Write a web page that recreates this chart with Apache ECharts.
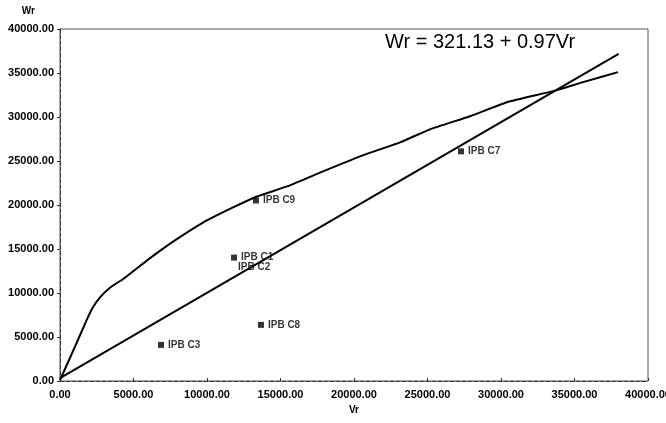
<!DOCTYPE html>
<html><head><meta charset="utf-8">
<script src="https://cdn.jsdelivr.net/npm/echarts@6/dist/echarts.min.js"></script>
<style>html,body{margin:0;padding:0;background:#fff}#c{width:666px;height:423px}</style>
</head><body><div id="c"></div>
<script>
// Sample points (Vr, Wr) and labels
const pointNames = ['IPB C3', 'IPB C8', 'IPB C1', 'IPB C2', 'IPB C9', 'IPB C7'];
const pointVr = [6870, 13670, 11840, 11840, 13330, 27280];
const pointWr = [4100, 6380, 14020, 14020, 20510, 26100];
// Regression line end points: Wr = 321.13 + 0.97Vr
const lineVr = [0, 38000];
const lineWr = [320, 37180];
// Curve
const curveVr = [0, 1020, 1700, 2180, 2720, 3400, 4420, 5990, 7690, 9730, 11770, 13400, 15440, 17890, 20410, 23130, 25170, 27890, 30410, 33540, 35580, 37960];
const curveWr = [100, 3900, 6500, 8200, 9500, 10600, 11740, 13790, 15840, 18010, 19720, 20970, 22110, 23820, 25530, 27120, 28600, 30090, 31680, 32940, 33960, 35100];

const font = 'Liberation Sans, Arial, sans-serif';
const zip = (a, b) => a.map((v, i) => [v, b[i]]);

const chart = echarts.init(document.getElementById('c'));
chart.setOption({
  animation: false,
  backgroundColor: '#fff',
  grid: { left: 60, right: 18, top: 29, bottom: 42, show: true, borderColor: '#555', borderWidth: 1,
    containLabel: false, outerBoundsMode: 'none' },
  xAxis: {
    type: 'value', min: 0, max: 40000, interval: 5000,
    name: 'Vr', nameLocation: 'middle', nameGap: 23,
    nameTextStyle: { fontFamily: font, fontWeight: 'bold', fontSize: 10, color: '#000' },
    axisLine: { lineStyle: { color: '#333', type: 'dashed' } },
    axisTick: { inside: true, length: 3, lineStyle: { color: '#333' } },
    axisLabel: { fontFamily: font, fontWeight: 'bold', fontSize: 11, color: '#000', margin: 8,
      formatter: v => v.toFixed(2) },
    splitLine: { show: false }
  },
  yAxis: {
    type: 'value', min: 0, max: 40000, interval: 5000,
    name: 'Wr', nameLocation: 'end', nameGap: 13,
    nameTextStyle: { fontFamily: font, fontWeight: 'bold', fontSize: 10, color: '#000', align: 'right', padding: [0, 25, 0, 0] },
    axisLine: { show: true, lineStyle: { color: '#333', type: 'dashed' } },
    axisTick: { show: true, length: 3, lineStyle: { color: '#333' } },
    axisLabel: { fontFamily: font, fontWeight: 'bold', fontSize: 11, color: '#000', margin: 6,
      formatter: v => v.toFixed(2) },
    splitLine: { show: false }
  },
  series: [
    {
      type: 'line', data: zip(curveVr, curveWr), showSymbol: false, smooth: 0.15,
      lineStyle: { color: '#000', width: 2 }, silent: true
    },
    {
      type: 'line', data: zip(lineVr, lineWr), showSymbol: false,
      lineStyle: { color: '#000', width: 2 }, silent: true
    },
    {
      type: 'scatter', symbol: 'rect', symbolSize: 6,
      itemStyle: { color: '#000' },
      data: pointNames.map((n, i) => ({
        value: [pointVr[i], pointWr[i]], name: n,
        symbolSize: n === 'IPB C2' ? 0 : 6,
        label: { offset: n === 'IPB C2' ? [0, 10] : [0, 0] }
      })),
      label: { show: true, position: 'right', distance: 4, formatter: p => p.name,
        fontFamily: font, fontWeight: 'bold', fontSize: 10, color: '#000' }
    }
  ],
  graphic: [
    { type: 'text', left: 385, top: 32,
      style: { text: 'Wr = 321.13 + 0.97Vr', fontFamily: font, fontSize: 20, fill: '#000' } }
  ]
});
</script></body></html>
